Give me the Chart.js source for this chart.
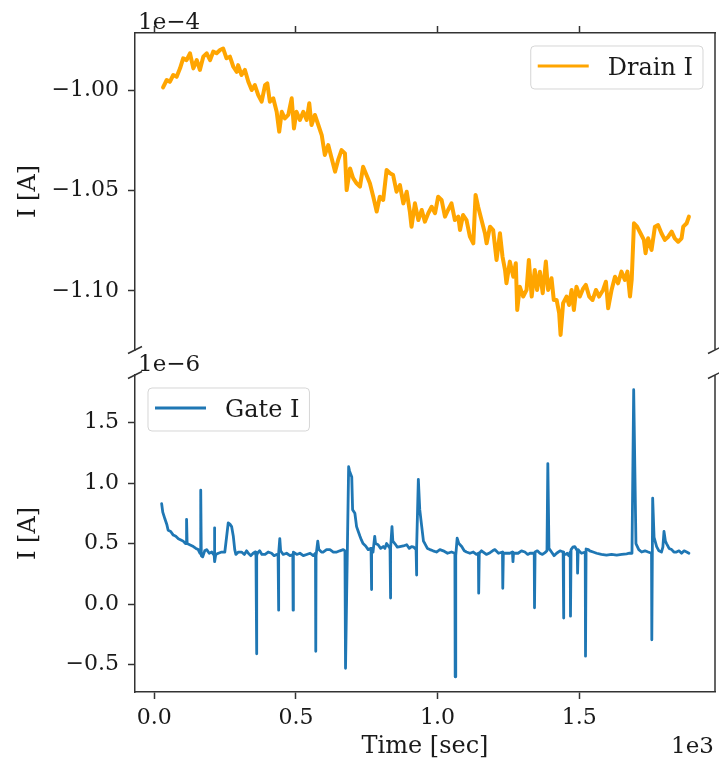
<!DOCTYPE html>
<html lang="en">
<head>
    <meta charset="UTF-8">
    <title>Drain / Gate current</title>
    <script src="https://cdn.jsdelivr.net/npm/chart.js"></script>
    <style>
        body {
            margin: 0;
            background: #fff;
        }
        .wrap {
            position: relative;
            width: 719px;
            height: 766px;
        }
        .wrap canvas {
            position: absolute;
            left: 0;
            top: 0;
        }
    </style>
</head>
<body>
    <div class="wrap">
        <canvas id="gateChart" width="719" height="766"></canvas>
        <canvas id="drainChart" width="719" height="766"></canvas>
    </div>

    <script>
        // Drain current, time in sec, current in units of 1e-4 A
        const drainTime = [31,44,55,67,79,91,102,114,126,138,150,161,173,185,197,208,220,232,243,255,
            267,279,291,296,308,320,332,344,355,367,379,391,399,408,420,432,441,450,461,473,
            485,493,502,514,526,538,547,555,567,579,591,602,614,626,638,
            649,661,673,679,691,702,714,726,737,749,761,773,785,796,808,820,832,843,855,867,
            879,891,902,908,920,932,944,955,967,979,991,1002,1014,1026,1037,1049,1061,1073,1079,1090,
            1102,1114,1126,1134,1143,1155,1167,1173,1185,1196,1208,1220,
            1229,1238,1243,1255,1267,1276,1281,1290,1302,1314,1322,1332,1343,1351,1361,1371,1382,1390,1402,1410,
            1420,1429,1434,1443,1455,1464,1473,1481,1490,1502,1514,1523,1535,1547,1559,1570,1584,1594,1602,1614,
            1626,1637,1649,1661,1670,1679,1685,1693,1704,1716,1728,1734,1743,1755,1767,1778,1790,1802,1814,1826,
            1837,1849,1861,1867,1879,1887];
        const drainCurrent = [-0.9987,-0.9950,-0.9959,-0.9925,-0.9934,-0.9892,-0.9842,-0.9851,-0.9817,-0.9892,
            -0.9851,-0.9900,-0.9834,-0.9817,-0.9851,-0.9809,-0.9817,-0.9801,-0.9793,-0.9842,
            -0.9834,-0.9884,-0.9909,-0.9876,-0.9925,-0.9900,-0.9959,-1.0000,-0.9975,-1.0025,
            -1.0058,-0.9975,-0.9967,-1.0058,-1.0041,-1.0108,-1.0207,-1.0108,-1.0141,-1.0124,
            -1.0041,-1.0191,-1.0108,-1.0149,-1.0108,-1.0149,-1.0066,-1.0174,-1.0124,-1.0174,
            -1.0224,-1.0323,-1.0274,-1.0340,-1.0406,
            -1.0348,-1.0299,-1.0315,-1.0498,-1.0390,-1.0439,-1.0464,-1.0481,-1.0382,-1.0423,
            -1.0464,-1.0531,-1.0605,-1.0531,-1.0547,-1.0398,-1.0414,-1.0423,-1.0506,-1.0473,
            -1.0564,-1.0506,-1.0605,-1.0680,-1.0564,-1.0647,-1.0597,-1.0655,-1.0613,-1.0581,
            -1.0613,-1.0531,-1.0547,-1.0630,-1.0597,-1.0564,-1.0647,-1.0630,-1.0697,-1.0622,
            -1.0647,-1.0730,-1.0763,-1.0522,-1.0581,-1.0647,-1.0713,-1.0763,-1.0680,-1.0697,
            -1.0846,-1.0713,
            -1.0829,-1.0896,-1.0962,-1.0854,-1.0929,-1.0862,-1.1095,-1.0979,-1.1028,-1.0995,
            -1.0846,-1.1028,-1.0896,-1.0995,-1.0904,-1.1011,-1.0854,-1.0995,-1.0937,-1.1045,
            -1.1045,-1.1111,-1.1219,-1.1061,-1.1028,-1.1070,-1.0995,-1.1095,-1.0979,-1.1028,
            -1.0987,-1.0970,-1.1028,-1.1045,-1.0995,-1.1028,-1.0995,-1.0954,-1.1086,-1.0995,
            -1.0929,-1.0962,-1.0904,-1.0945,-1.0904,-1.1028,-1.0945,-1.0663,-1.0680,-1.0713,
            -1.0746,-1.0812,-1.0738,-1.0796,-1.0680,-1.0672,-1.0713,-1.0746,-1.0730,-1.0705,
            -1.0738,-1.0755,-1.0738,-1.0680,-1.0663,-1.0630];

        // Gate current, time in sec, current in units of 1e-6 A
        const gateTime = [26,30,38,44,49,58,67,76,85,94,
            102,110,112,114,116,125,138,147,155,161,
            163,164,166,171,178,185,194,203,209,211,
            212,213,214,217,226,238,249,255,261,267,
            273,279,284,288,297,308,318,326,332,341,
            349,356,359,360,361,362,364,372,380,391,
            402,414,423,432,437,438,440,443,446,455,
            467,479,489,490,491,503,514,526,538,550,
            561,569,570,571,577,581,590,596,608,620,
            632,644,655,667,673,675,686,689,697,700,
            708,714,720,726,731,737,746,755,765,766,
            768,772,778,781,790,799,808,814,820,832,
            833,835,839,842,849,858,867,879,891,900,
            908,916,924,925,927,932,937,944,950,955,
            964,973,984,996,1008,1020,1035,1049,1061,1062,
            1064,1069,1075,1085,1094,1102,1114,1126,1137,1144,
            1145,1147,1155,1161,1172,1185,1194,1202,1215,1229,
            1230,1232,1244,1255,1264,1266,1268,1284,1296,1308,
            1318,1326,1341,1342,1344,1352,1361,1370,1379,1386,
            1389,1393,1402,1411,1420,1432,1443,1444,1446,1452,
            1457,1463,1468,1469,1471,1477,1484,1493,1494,1496,
            1503,1508,1521,1522,1524,1532,1537,1549,1561,1578,
            1596,1614,1632,1650,1667,1677,1686,1692,1700,1710,
            1720,1732,1743,1755,1756,1759,1764,1773,1781,1790,
            1795,1799,1804,1808,1817,1826,1834,1843,1852,1861,
            1870,1879,1887];
        const gateCurrent = [0.83,0.76,0.70,0.66,0.61,0.60,0.57,0.56,0.54,0.53,
            0.52,0.50,0.50,0.70,0.50,0.49,0.475,0.46,0.45,0.42,
            0.44,0.94,0.40,0.39,0.44,0.45,0.42,0.43,0.41,0.42,
            0.63,0.40,0.35,0.41,0.42,0.43,0.43,0.55,0.67,0.66,
            0.64,0.56,0.45,0.41,0.43,0.43,0.41,0.44,0.42,0.40,
            0.42,0.43,0.40,0.05,-0.41,0.40,0.42,0.44,0.41,0.41,
            0.43,0.42,0.40,0.41,0.40,-0.05,0.42,0.54,0.44,0.41,
            0.42,0.40,0.41,-0.05,0.43,0.41,0.42,0.40,0.41,0.42,
            0.40,0.42,-0.39,0.40,0.52,0.45,0.43,0.43,0.45,0.45,
            0.43,0.43,0.44,0.45,0.44,-0.53,1.135,1.10,1.05,0.78,
            0.75,0.64,0.60,0.56,0.53,0.50,0.48,0.45,0.46,0.12,
            0.44,0.43,0.56,0.50,0.49,0.46,0.475,0.46,0.50,0.46,
            0.05,0.46,0.64,0.52,0.50,0.47,0.475,0.48,0.49,0.46,
            0.475,0.47,0.45,0.24,0.47,1.03,0.78,0.64,0.52,0.50,
            0.46,0.45,0.44,0.43,0.45,0.44,0.42,0.43,0.42,-0.60,
            0.40,0.545,0.50,0.475,0.44,0.43,0.42,0.43,0.41,0.42,
            0.09,0.42,0.44,0.43,0.41,0.425,0.44,0.45,0.42,0.43,
            0.13,0.42,0.42,0.42,0.43,0.35,0.42,0.42,0.44,0.43,
            0.41,0.42,0.42,-0.03,0.43,0.44,0.42,0.41,0.425,0.44,
            1.16,0.46,0.43,0.40,0.42,0.44,0.43,-0.115,0.415,0.41,
            0.42,0.40,0.43,-0.10,0.45,0.47,0.475,0.44,0.255,0.45,
            0.43,0.42,0.43,-0.43,0.455,0.45,0.44,0.43,0.42,0.41,
            0.405,0.41,0.405,0.41,0.415,0.42,0.42,1.77,0.50,0.45,
            0.43,0.44,0.43,0.42,-0.295,0.875,0.55,0.475,0.44,0.43,
            0.47,0.60,0.52,0.50,0.46,0.45,0.43,0.43,0.44,0.42,
            0.44,0.43,0.42];

        // axis ticks
        const timeTicks = [0, 500, 1000, 1500];
        const drainTicks = [-1.10, -1.05, -1.00];
        const gateTicks = [-0.5, 0.0, 0.5, 1.0, 1.5];

        const FONT = 'DejaVu Serif';
        const INK = '#1a1a1a';
        const SPINE = '#333';
        const LABEL_FONT = { family: FONT, size: 24 };

        Chart.defaults.font.family = FONT;
        Chart.defaults.font.size = 22;
        Chart.defaults.color = INK;

        const minus = (v, d) => (v < 0 ? '\u2212' : '') + Math.abs(v).toFixed(d);
        const setTicks = arr => scale => { scale.ticks = arr.map(v => ({ value: v })); };

        // spines, broken-axis marks, offset text and legend box
        const decorations = {
            id: 'decorations',
            afterDraw(chart, args, o) {
                const { ctx, chartArea: a } = chart;
                ctx.save();
                ctx.strokeStyle = SPINE;
                ctx.lineWidth = 1.5;
                ctx.beginPath();
                ctx.moveTo(a.right, a.top);
                ctx.lineTo(a.right, a.bottom);
                const by = o.breakAt === 'bottom' ? a.bottom : a.top;
                [a.left, a.right].forEach(x => {
                    ctx.moveTo(x - 7, by + 3.5);
                    ctx.lineTo(x + 7, by - 3.5);
                });
                ctx.stroke();

                ctx.fillStyle = INK;
                ctx.font = '23px "' + FONT + '"';
                ctx.textBaseline = 'alphabetic';
                ctx.textAlign = 'left';
                ctx.fillText(o.yOffset, a.left + 3, a.top - 4);
                if (o.xOffset) {
                    ctx.textAlign = 'right';
                    ctx.fillText(o.xOffset, a.right - 1, 753);
                }

                // legend
                const ds = chart.data.datasets[0];
                ctx.font = '24px "' + FONT + '"';
                ctx.textAlign = 'left';
                const tw = ctx.measureText(ds.label).width;
                const w = 7 + 51 + 19 + tw + 10, h = 43;
                const lx = o.legend === 'right' ? a.right - 12 - w : a.left + 13;
                const ly = a.top + 13;
                ctx.beginPath();
                ctx.roundRect(lx, ly, w, h, 4);
                ctx.fillStyle = 'rgba(255,255,255,0.8)';
                ctx.fill();
                ctx.strokeStyle = 'rgba(204,204,204,0.8)';
                ctx.lineWidth = 1;
                ctx.stroke();
                ctx.beginPath();
                ctx.strokeStyle = ds.borderColor;
                ctx.lineWidth = 2.8;
                ctx.moveTo(lx + 7, ly + 20);
                ctx.lineTo(lx + 58, ly + 20);
                ctx.stroke();
                ctx.fillStyle = INK;
                ctx.fillText(ds.label, lx + 77, ly + 29);
                ctx.restore();
            }
        };

        function tickGrid() {
            return { drawOnChartArea: false, drawTicks: true, tickLength: 7, tickColor: SPINE, tickWidth: 1.5 };
        }

        // upper panel: drain current
        new Chart(document.getElementById('drainChart'), {
            type: 'line',
            data: {
                datasets: [{
                    label: 'Drain I',
                    data: drainTime.map((t, i) => ({ x: t, y: drainCurrent[i] })),
                    borderColor: '#ffa500',
                    borderWidth: 4,
                    borderJoinStyle: 'round',
                    borderCapStyle: 'round',
                    pointRadius: 0,
                    tension: 0
                }]
            },
            options: {
                responsive: false,
                animation: false,
                layout: { padding: { top: 0, left: 0, right: 4, bottom: 416 } },
                plugins: {
                    legend: { display: false },
                    tooltip: { enabled: false },
                    decorations: { breakAt: 'bottom', yOffset: '1e\u22124', legend: 'right' }
                },
                scales: {
                    x: {
                        type: 'linear',
                        position: 'top',
                        min: -68,
                        max: 1979,
                        afterBuildTicks: setTicks(timeTicks),
                        ticks: { display: false },
                        grid: tickGrid(),
                        border: { display: true, color: SPINE, width: 1.5 },
                        afterFit: s => { s.height = 33; }
                    },
                    y: {
                        min: -1.1294,
                        max: -0.9716,
                        afterBuildTicks: setTicks(drainTicks),
                        ticks: { padding: 9, callback: v => minus(v, 2) },
                        grid: tickGrid(),
                        border: { display: true, color: SPINE, width: 1.5 },
                        title: { display: true, text: 'I [A]', font: LABEL_FONT, padding: { top: 14, bottom: 0 } },
                        afterFit: s => { s.width = 135; }
                    }
                }
            },
            plugins: [decorations]
        });

        // lower panel: gate current
        new Chart(document.getElementById('gateChart'), {
            type: 'line',
            data: {
                datasets: [{
                    label: 'Gate I',
                    data: gateTime.map((t, i) => ({ x: t, y: gateCurrent[i] })),
                    borderColor: '#1f77b4',
                    borderWidth: 2.8,
                    borderJoinStyle: 'round',
                    borderCapStyle: 'round',
                    pointRadius: 0,
                    tension: 0
                }]
            },
            options: {
                responsive: false,
                animation: false,
                layout: { padding: { top: 375, left: 0, right: 4, bottom: 0 } },
                plugins: {
                    legend: { display: false },
                    tooltip: { enabled: false },
                    decorations: { breakAt: 'top', yOffset: '1e\u22126', xOffset: '1e3', legend: 'left' }
                },
                scales: {
                    x: {
                        type: 'linear',
                        position: 'bottom',
                        min: -68,
                        max: 1979,
                        afterBuildTicks: setTicks(timeTicks),
                        ticks: { padding: 6, maxRotation: 0, callback: v => (v / 1000).toFixed(1) },
                        grid: tickGrid(),
                        border: { display: true, color: SPINE, width: 1.5 },
                        title: { display: true, text: 'Time [sec]', font: LABEL_FONT, padding: { top: 0, bottom: 5 } },
                        afterFit: s => { s.height = 74; }
                    },
                    y: {
                        min: -0.726,
                        max: 1.892,
                        afterBuildTicks: setTicks(gateTicks),
                        ticks: { padding: 9, callback: v => minus(v, 1) },
                        grid: tickGrid(),
                        border: { display: true, color: SPINE, width: 1.5 },
                        title: { display: true, text: 'I [A]', font: LABEL_FONT, padding: { top: 14, bottom: 0 } },
                        afterFit: s => { s.width = 135; }
                    }
                }
            },
            plugins: [decorations]
        });
    </script>
</body>
</html>
